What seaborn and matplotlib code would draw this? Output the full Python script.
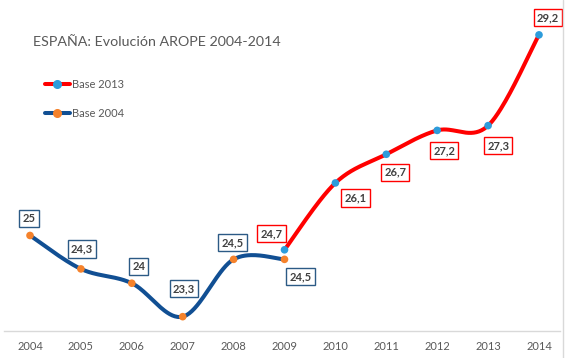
import matplotlib
matplotlib.use("Agg")
import matplotlib.pyplot as plt
from matplotlib.lines import Line2D
import seaborn as sns
import numpy as np
import pandas as pd

# data
years_2004 = [2004, 2005, 2006, 2007, 2008, 2009]
base_2004 = [25.0, 24.3, 24.0, 23.3, 24.5, 24.5]
years_2013 = [2009, 2010, 2011, 2012, 2013, 2014]
base_2013 = [24.7, 26.1, 26.7, 27.2, 27.3, 29.2]
tick_years = list(range(2004, 2015))

# label offsets in pixels (dx, dy down)
off_2004 = [(-1, -17), (1, -20), (7, -17), (1, -28), (-1, -17), (16, 17)]
off_2013 = [(-13, -16), (20, 15), (9, 18), (7, 20), (10, 20), (9, -17)]

RED = "#FF0000"
BLUE = "#114F93"
ORANGE = "#F5822B"
LBLUE = "#2D9CDB"
BOXBLUE = "#2C5A85"


def smooth(xs, ys, n=40):
    # excel-like smoothed line (catmull-rom as cubic bezier)
    x = np.asarray(xs, float)
    y = np.asarray(ys, float)
    px = np.concatenate([[x[0]], x, [x[-1]]])
    py = np.concatenate([[y[0]], y, [y[-1]]])
    outx, outy = [], []
    t = np.linspace(0, 1, n)
    for i in range(1, len(px) - 2):
        p0 = np.array([px[i], py[i]])
        p3 = np.array([px[i + 1], py[i + 1]])
        c1 = p0 + (p3 - np.array([px[i - 1], py[i - 1]])) / 6
        c2 = p3 - (np.array([px[i + 2], py[i + 2]]) - p0) / 6
        b = ((1 - t) ** 3)[:, None] * p0 + (3 * (1 - t) ** 2 * t)[:, None] * c1 \
            + (3 * (1 - t) * t ** 2)[:, None] * c2 + (t ** 3)[:, None] * p3
        outx.extend(b[:, 0])
        outy.extend(b[:, 1])
    return pd.DataFrame({"x": outx, "y": outy})


sns.set_style("white")
plt.rcParams["font.family"] = ["Lato", "DejaVu Sans"]

fig = plt.figure(figsize=(5.65, 3.58), dpi=100)
ax = fig.add_axes([4 / 565, 27 / 358, 556 / 565, 331 / 358])

c13 = smooth(years_2013, base_2013)
c04 = smooth(years_2004, base_2004)
sns.lineplot(data=c13, x="x", y="y", color=RED, lw=2.9, sort=False, ax=ax,
             solid_capstyle="butt")
sns.lineplot(data=c04, x="x", y="y", color=BLUE, lw=2.9, sort=False, ax=ax,
             solid_capstyle="butt")
sns.scatterplot(x=years_2013, y=base_2013, color=LBLUE, s=30, edgecolor="none",
                ax=ax, zorder=5)
sns.scatterplot(x=years_2004, y=base_2004, color=ORANGE, s=30, edgecolor="none",
                ax=ax, zorder=5)


def fmt(v):
    return ("%g" % v).replace(".", ",")


for xs, ys, offs, ec in [(years_2004, base_2004, off_2004, BOXBLUE),
                         (years_2013, base_2013, off_2013, RED)]:
    for x, y, (dx, dy) in zip(xs, ys, offs):
        ax.annotate(fmt(y), (x, y), xytext=(dx * 0.72, -dy * 0.72),
                    textcoords="offset points", ha="center", va="center",
                    fontsize=8, color="#404040", fontweight="bold",
                    bbox=dict(boxstyle="square,pad=0.28", fc="white", ec=ec, lw=1),
                    zorder=6)

ax.set_xlim(2004 - 26 / 50.9, 2014 + 21 / 50.9)
ax.set_ylim(23.0, 29.93)
ax.set_xticks(tick_years)
ax.set_xticklabels([str(t) for t in tick_years])
ax.set_yticks([])
ax.set_xlabel("")
ax.set_ylabel("")
ax.tick_params(axis="x", length=0, pad=7, labelsize=8, colors="#595959")
for s in ["top", "left", "right"]:
    ax.spines[s].set_visible(False)
ax.spines["bottom"].set_color("#D9D9D9")
ax.spines["bottom"].set_linewidth(1)
ax.patch.set_alpha(0)

handles = [Line2D([], [], color=RED, lw=2.9, marker="o", markersize=5.5,
                  markerfacecolor=LBLUE, markeredgecolor=LBLUE),
           Line2D([], [], color=BLUE, lw=2.9, marker="o", markersize=5.5,
                  markerfacecolor=ORANGE, markeredgecolor=ORANGE)]
fig.legend(handles, ["Base 2013", "Base 2004"], loc="upper left",
           bbox_to_anchor=(39 / 565, 1 - 73 / 358), frameon=False, fontsize=8,
           labelcolor="#595959", handlelength=2.3, handletextpad=0.15,
           labelspacing=1.65, borderpad=0)

fig.text(33 / 565, 1 - 42 / 358, "ESPAÑA: Evolución AROPE 2004-2014",
         fontsize=10.3, color="#595959", va="center", ha="left")

fig.add_artist(Line2D([563 / 565, 563 / 565], [0, 1], color="#D9D9D9", lw=1))

fig.savefig("out.png", dpi=100)
